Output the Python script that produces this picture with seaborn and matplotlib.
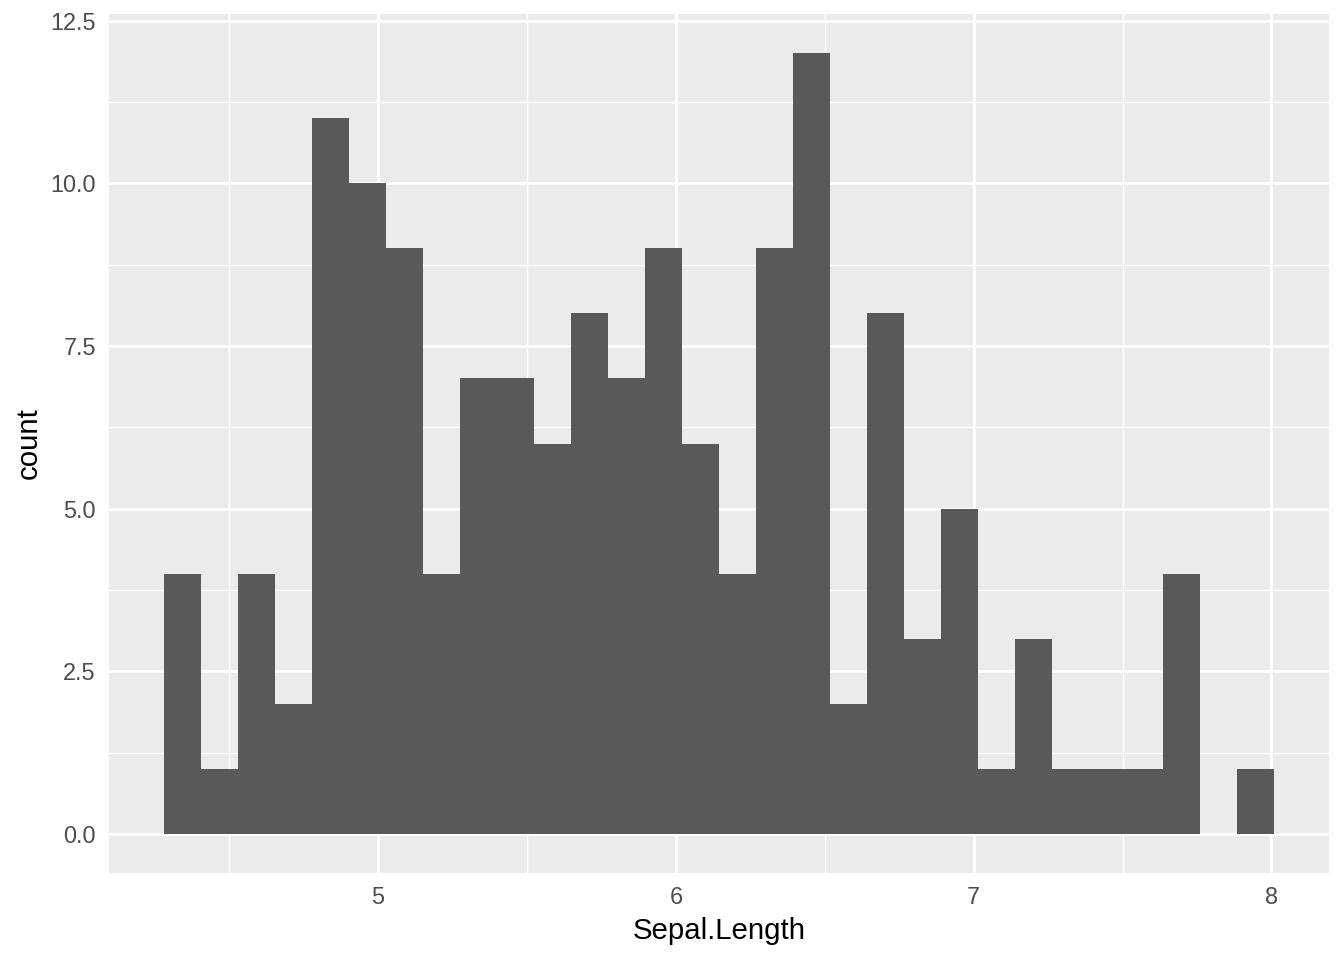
import matplotlib
matplotlib.use("Agg")
import matplotlib.pyplot as plt
import seaborn as sns
import numpy as np
import pandas as pd

# iris Sepal.Length, 30 bins (ggplot2 default binning)
data_min = 4.3
data_max = 7.9
n_bins = 30
counts = [4, 1, 4, 2, 11, 10, 9, 4, 7, 7, 6, 8, 7, 9, 6,
          4, 9, 12, 2, 8, 3, 5, 1, 3, 1, 1, 1, 4, 0, 1]

width = (data_max - data_min) / (n_bins - 1)
boundary = width / 2
origin = boundary + np.floor((data_min - boundary) / width) * width
edges = origin + width * np.arange(n_bins + 1)
centers = (edges[:-1] + edges[1:]) / 2

df = pd.DataFrame({'Sepal.Length': centers, 'n': counts})

sns.set_style("darkgrid")
plt.rcParams['font.family'] = ['Liberation Sans', 'DejaVu Sans']

fig = plt.figure(figsize=(7, 5), dpi=192)
ax = fig.add_axes([109 / 1344, 1 - 873 / 960, (1329 - 109) / 1344, (873 - 14) / 960])
ax.set_facecolor('#EBEBEB')

sns.histplot(data=df, x='Sepal.Length', weights='n', bins=list(edges), ax=ax,
             color='#595959', alpha=1, edgecolor='none', linewidth=0, zorder=3)

lo, hi = edges[0], edges[-1]
pad = (hi - lo) * 0.05
ax.set_xlim(lo - pad, hi + pad)
ymax = max(counts)
ax.set_ylim(-ymax * 0.05, ymax * 1.05)

ax.set_xticks([5, 6, 7, 8])
ax.set_xticklabels(['5', '6', '7', '8'])
ax.set_yticks([0, 2.5, 5, 7.5, 10, 12.5])
ax.set_yticklabels(['0.0', '2.5', '5.0', '7.5', '10.0', '12.5'])
ax.set_xticks([4.5, 5.5, 6.5, 7.5], minor=True)
ax.set_yticks([1.25, 3.75, 6.25, 8.75, 11.25], minor=True)

ax.grid(which='major', color='white', linewidth=1.07, zorder=0)
ax.grid(which='minor', color='white', linewidth=0.53, zorder=0)
ax.set_axisbelow(True)
for s in ax.spines.values():
    s.set_visible(False)

ax.tick_params(which='major', length=2.75, width=1.07, color='#333333',
               labelcolor='#4D4D4D', labelsize=8.8, pad=2.2)
ax.tick_params(which='minor', length=0)

ax.set_xlabel('Sepal.Length', fontsize=11, color='black', labelpad=2.75)
ax.set_ylabel('count', fontsize=11, color='black', labelpad=2.75)

fig.savefig('out.png', dpi=192)
